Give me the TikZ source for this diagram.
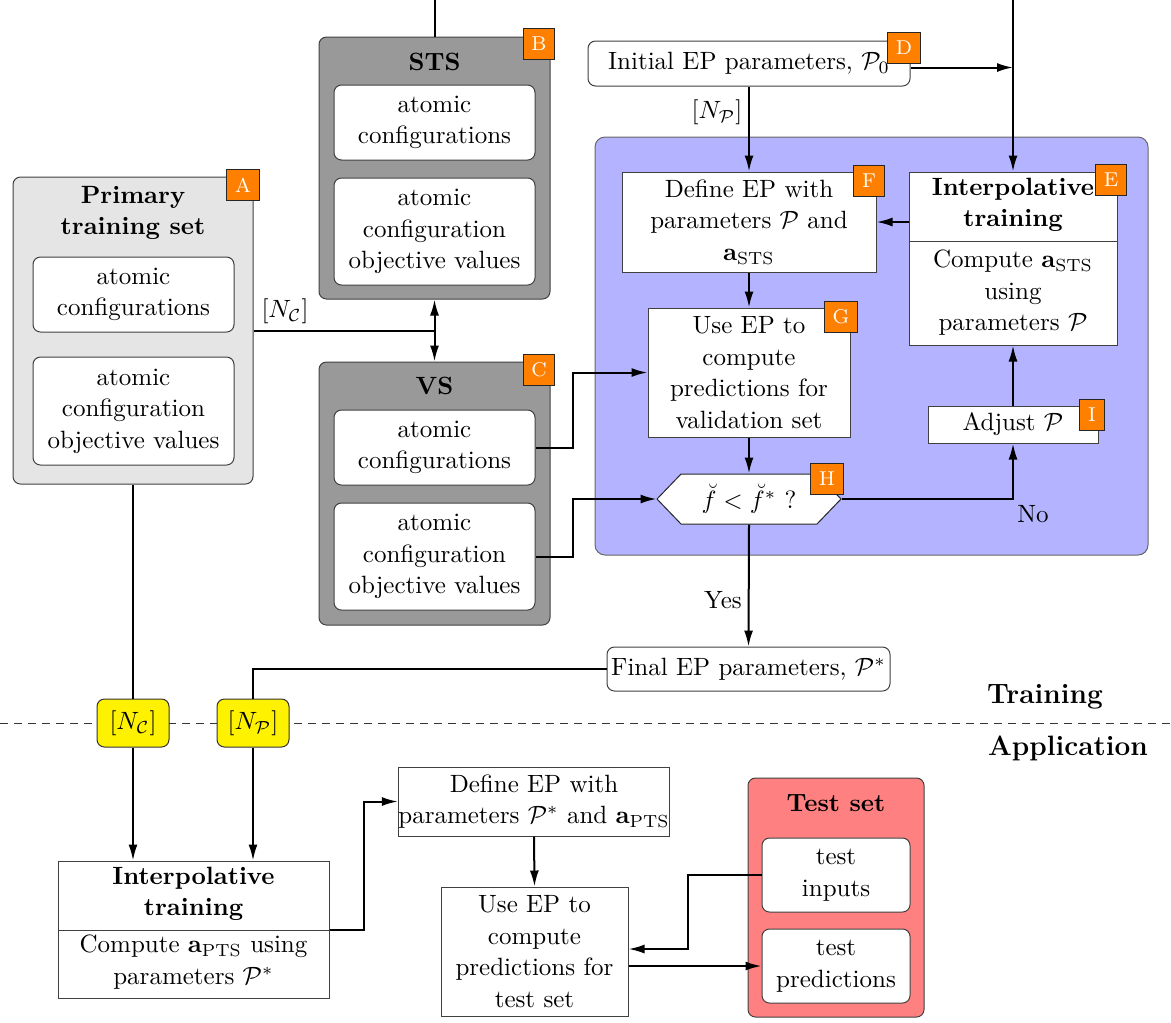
\documentclass[tikz,border=0pt]{standalone}
\usetikzlibrary{arrows.meta,calc}
\definecolor{lblc}{RGB}{255,128,0}
\definecolor{bluc}{RGB}{179,179,255}
\definecolor{redc}{RGB}{255,128,128}
\definecolor{lgray}{RGB}{229,229,229}
\definecolor{dgray}{RGB}{153,153,153}
\newcommand{\nf}{\fontsize{10}{12.6}\selectfont}
\begin{document}
\begin{tikzpicture}[x=0.4pt,y=-0.4pt,
  sz/.style 2 args={minimum width=#1*0.4pt, minimum height=#2*0.4pt},
  box/.style={draw=black!75, fill=white, align=center, inner sep=0pt, font=\nf},
  rbox/.style={box, rounded corners=3pt},
  grp/.style={draw=black!75, rounded corners=3pt, inner sep=0pt},
  ttl/.style={font=\nf\bfseries, align=center, inner sep=0pt},
  txt/.style={align=center, inner sep=0pt, font=\nf},
  big/.style={font=\fontsize{11.2}{13}\selectfont\bfseries, inner sep=0pt},
  lbl/.style={draw=black!85, fill=lblc, text=white, font=\footnotesize, inner sep=3.3pt},
  ln/.style={thick},
  conn/.style={thick, -{Latex[length=6.4pt,width=3.6pt]}},
  ybox/.style={draw=black!80, fill=yellow, rounded corners=3pt, inner sep=0pt, sz={72}{48}, font=\nf},
]
\useasboundingbox (0,0) rectangle (1171,1022);
\clip (0,0) rectangle (1171,1022);

% ---- group boxes
\node[grp, fill=lgray, sz={240}{307}] (A) at (133,330.5) {};
\node[ttl] (At) at (133,213) {Primary\\training set};
\node[rbox, sz={201}{75}] (A1) at (133.5,294.5) {atomic\\configurations};
\node[rbox, sz={201}{108}] (A2) at (133.5,411) {atomic\\configuration\\objective values};

\node[grp, fill=dgray, sz={231}{262}] (B) at (434.5,168) {};
\node[ttl] (Bt) at (434.5,62) {STS};
\node[rbox, sz={201}{75}] (B1) at (434.5,122.5) {atomic\\configurations};
\node[rbox, sz={201}{107}] (B2) at (434.5,231.5) {atomic\\configuration\\objective values};

\node[grp, fill=dgray, sz={231}{263}] (C) at (434.5,493.5) {};
\node[ttl] (Ct) at (434.5,386) {VS};
\node[rbox, sz={201}{75}] (C1) at (434.5,447.5) {atomic\\configurations};
\node[rbox, sz={201}{107}] (C2) at (434.5,556.5) {atomic\\configuration\\objective values};

\node[draw=black!60, fill=bluc, rounded corners=4pt, inner sep=0pt, sz={553}{418}] (Blue) at (871.5,346) {};

\node[rbox, sz={322}{45}] (D) at (749,63.5) {Initial EP parameters, $\mathcal{P}_0$};
\node[box, sz={254}{100}] (F) at (749,222) {Define EP with\\parameters $\mathcal{P}$ and\\$\mathbf{a}_{\mathrm{STS}}$};
\node[box, sz={208}{173}] (E) at (1013,258.5) {};
\draw[draw=black!75] (E.west |- 0,241) -- (E.east |- 0,241);
\node[ttl] (Et) at (1013,205) {Interpolative\\training};
\node[txt] (Eb) at (1013,293) {Compute $\mathbf{a}_{\mathrm{STS}}$\\using\\parameters $\mathcal{P}$};
\node[box, sz={202}{129}] (G) at (749,372.5) {Use EP to\\compute\\predictions for\\validation set};
\filldraw[draw=black!85, fill=white] (657,499) -- (681,474) -- (817,474) -- (841,499) -- (817,524) -- (681,524) -- cycle;
\node[txt, sz={184}{50}] (H) at (749,499) {$\breve{f} < \breve{f}^{*}$ ?};
\node[box, sz={170}{37}] (I) at (1013,424.5) {Adjust $\mathcal{P}$};
\node[rbox, sz={283}{44}] (Fin) at (748.5,669) {Final EP parameters, $\mathcal{P}^{*}$};

% ---- training / application divider
\draw[black!80, dash pattern=on 3.2pt off 2.4pt] (0,723) -- (1171,723);
\node[ybox] (NC) at (133,723) {$[N_{\mathcal{C}}]$};
\node[ybox] (NP) at (253,723) {$[N_{\mathcal{P}}]$};
\node[big] (Tr) at (1045,697) {Training};
\node[big] (Ap) at (1068,748) {Application};

% ---- application part
\node[box, sz={271}{137}] (BI) at (193.5,929.5) {};
\draw[draw=black!75] (BI.west |- 0,930) -- (BI.east |- 0,930);
\node[ttl] (BIt) at (193.5,894) {Interpolative\\training};
\node[txt] (BIb) at (193.5,962) {Compute $\mathbf{a}_{\mathrm{PTS}}$ using\\parameters $\mathcal{P}^{*}$};
\node[box, sz={270}{69}] (Def) at (534,801.5) {Define EP with\\parameters $\mathcal{P}^{*}$ and $\mathbf{a}_{\mathrm{PTS}}$};
\node[box, sz={187}{129}] (Use) at (534.5,951.5) {Use EP to\\compute\\predictions for\\test set};
\node[grp, fill=redc, sz={176}{239}] (T) at (836,897.5) {};
\node[ttl] (Tt) at (836,803) {Test set};
\node[rbox, sz={148}{74}] (T1) at (836,875) {test\\inputs};
\node[rbox, sz={148}{74}] (T2) at (836,966) {test\\predictions};

% ---- connectors
\coordinate (jAC) at (434.5,331);
\draw[ln] (A.east |- jAC) -- (jAC);
\draw[conn] (jAC) -- (B.south);
\draw[conn] (jAC) -- (C.north);
\node[txt] (lNC) at (285,311) {$[N_{\mathcal{C}}]$};

\coordinate (top1) at (434.5,-1);
\coordinate (top2) at (1013,-1);
\draw[conn] (B.north) -- (top1) -- (top2) -- (E.north);
\coordinate (Ds) at ($(D.east)+(0,4)$);
\draw[conn] (Ds) -- (Ds -| E.north);
\draw[conn] (D.south) -- (F.north);
\node[txt] (lNP) at (717,112) {$[N_{\mathcal{P}}]$};
\draw[conn] (E.west |- F.east) -- (F.east);
\draw[conn] (F.south) -- (G.north);
\draw[conn] (G.south) -- (H.north);
\draw[conn] (C1.east) -- ++(37,0) |- (G.west);
\draw[conn] (C2.east) -- ++(37,0) |- (H.west);
\draw[conn] (H.east) -| (I.south);
\draw[conn] (I.north) -- (E.south);
\node[txt] (lNo) at (1033,514) {No};
\draw[conn] (H.south) -- (Fin.north);
\node[txt] (lYes) at (723,600) {Yes};

\draw[ln] (Fin.west) -| (NP.north);
\draw[conn] (NP.south) -- (NP.south |- BI.north);
\draw[ln] (A.south) -- (NC.north);
\draw[conn] (NC.south) -- (NC.south |- BI.north);
\draw[conn] (BI.east) -- ++(34,0) |- (Def.west);
\draw[conn] (Def.south) -- (Use.north);
\coordinate (Uin) at ($(Use.east)+(0,-2.5)$);
\draw[conn] (T1.west) -- ++(-74,0) |- (Uin);
\draw[conn] (Use.east |- T2.west) -- (T2.west);

% ---- letter tags
\node[lbl] (LA) at (243,185) {A};
\node[lbl] (LB) at (539,44) {B};
\node[lbl] (LC) at (539,370) {C};
\node[lbl] (LD) at (904,48) {D};
\node[lbl] (LE) at (1111,180) {E};
\node[lbl] (LF) at (869,181) {F};
\node[lbl] (LG) at (841,317) {G};
\node[lbl] (LH) at (827,479) {H};
\node[lbl] (LI) at (1092,415) {I};
\end{tikzpicture}
\end{document}
